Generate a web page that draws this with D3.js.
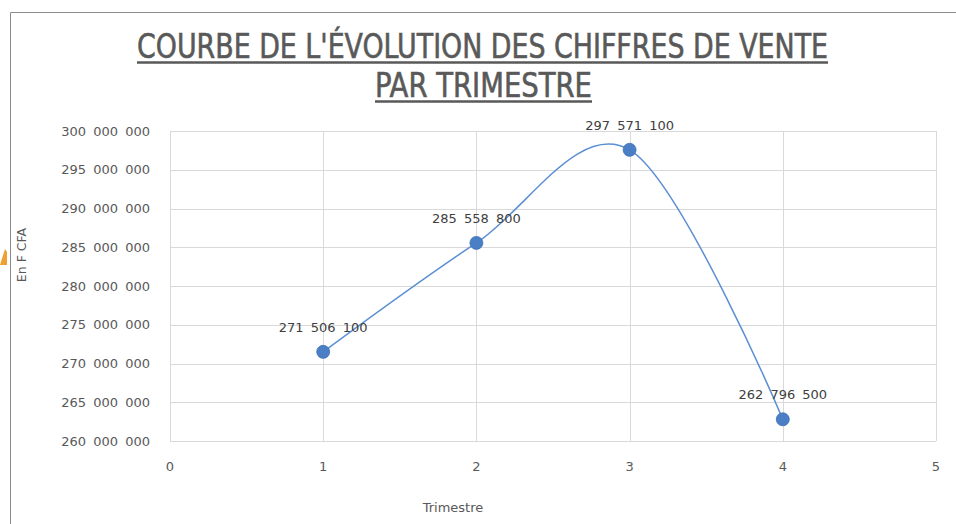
<!DOCTYPE html>
<html><head><meta charset="utf-8">
<script src="https://cdn.jsdelivr.net/npm/d3@7"></script>
<style>body{margin:0;background:#fff;}svg{display:block;}</style>
</head><body>
<script>
const trimestres = [1, 2, 3, 4];
const ventes = [271506100, 285558800, 297571100, 262796500];
const labels = ["271 506 100", "285 558 800", "297 571 100", "262 796 500"];
const yTicks = [260000000, 265000000, 270000000, 275000000, 280000000, 285000000, 290000000, 295000000, 300000000];
const xTicks = [0, 1, 2, 3, 4, 5];
const titleLines = ["COURBE DE L'ÉVOLUTION DES CHIFFRES DE VENTE", "PAR TRIMESTRE"];

const W = 956, H = 524;
const svg = d3.select("body").append("svg").attr("width", W).attr("height", H);
const font = "'Liberation Sans Narrow','DejaVu Sans Condensed','Open Sans',sans-serif";
const tickFont = "'DejaVu Sans','Open Sans',sans-serif";

// frame
svg.append("path").attr("d", "M10.5,524 V12.5 H956").attr("fill", "none").attr("stroke", "#8c8c8c").attr("stroke-width", 1);
// orange partial shape at left
svg.append("path").attr("d", "M0,265 L5,249 L7,252 L7,265 Z").attr("fill", "#eea032");

const x = d3.scaleLinear().domain([0, 5]).range([170, 936]);
const y = d3.scaleLinear().domain([260000000, 300000000]).range([441, 131]);

// gridlines
svg.append("g").selectAll("line").data(yTicks).join("line")
  .attr("x1", 170).attr("x2", 936)
  .attr("y1", d => Math.round(y(d)) + 0.5).attr("y2", d => Math.round(y(d)) + 0.5)
  .attr("stroke", "#d9d9d9");
svg.append("g").selectAll("line").data(xTicks).join("line")
  .attr("y1", 131).attr("y2", 441)
  .attr("x1", d => Math.round(x(d)) + 0.5).attr("x2", d => Math.round(x(d)) + 0.5)
  .attr("stroke", "#d9d9d9");

// y tick labels
svg.append("g").selectAll("text").data(yTicks).join("text")
  .attr("x", 150).attr("y", d => y(d)).attr("dy", "0.35em")
  .attr("text-anchor", "end").attr("font-family", tickFont).attr("font-size", 13)
  .attr("word-spacing", 3).attr("fill", "#595959")
  .text(d => d3.format(",")(d).replace(/,/g, " "));
// x tick labels
svg.append("g").selectAll("text").data(xTicks).join("text")
  .attr("x", d => x(d)).attr("y", 471)
  .attr("text-anchor", "middle").attr("font-family", tickFont).attr("font-size", 13)
  .attr("fill", "#595959").text(d => d);

// axis titles
svg.append("text").attr("x", 453).attr("y", 512).attr("text-anchor", "middle")
  .attr("font-family", tickFont).attr("font-size", 13).attr("fill", "#595959").text("Trimestre");
svg.append("text").attr("transform", "translate(26,255) rotate(-90)").attr("text-anchor", "middle")
  .attr("font-family", tickFont).attr("font-size", 12.5).attr("fill", "#595959").text("En F CFA");

// title
const tl = [{t: titleLines[0], yb: 58, x1: 137, x2: 828}, {t: titleLines[1], yb: 97, x1: 375, x2: 592}];
tl.forEach(o => {
  svg.append("text").attr("x", o.x1).attr("y", o.yb)
    .attr("font-family", font).attr("font-size", 34)
    .attr("fill", "#595959").attr("stroke", "#595959").attr("stroke-width", 0.6)
    .attr("textLength", o.x2 - o.x1).attr("lengthAdjust", "spacingAndGlyphs")
    .text(o.t);
  svg.append("line").attr("x1", o.x1).attr("x2", o.x2).attr("y1", o.yb + 4.5).attr("y2", o.yb + 4.5)
    .attr("stroke", "#595959").attr("stroke-width", 2.5);
});

// line
const data = trimestres.map((t, i) => ({t, v: ventes[i], l: labels[i]}));
const line = d3.line().x(d => x(d.t)).y(d => y(d.v)).curve(d3.curveCatmullRom.alpha(0));
svg.append("path").datum(data).attr("d", line).attr("fill", "none")
  .attr("stroke", "#5b8fd4").attr("stroke-width", 1.5);

svg.append("g").selectAll("circle").data(data).join("circle")
  .attr("cx", d => x(d.t)).attr("cy", d => y(d.v)).attr("r", 6.5)
  .attr("fill", "#4a7fc6").attr("stroke", "#3f70b3").attr("stroke-width", 0.8);

svg.append("g").selectAll("text").data(data).join("text")
  .attr("x", d => x(d.t)).attr("y", d => y(d.v) - 20)
  .attr("text-anchor", "middle").attr("font-family", tickFont).attr("font-size", 13)
  .attr("word-spacing", 3).attr("fill", "#404040").text(d => d.l);
</script>
</body></html>
